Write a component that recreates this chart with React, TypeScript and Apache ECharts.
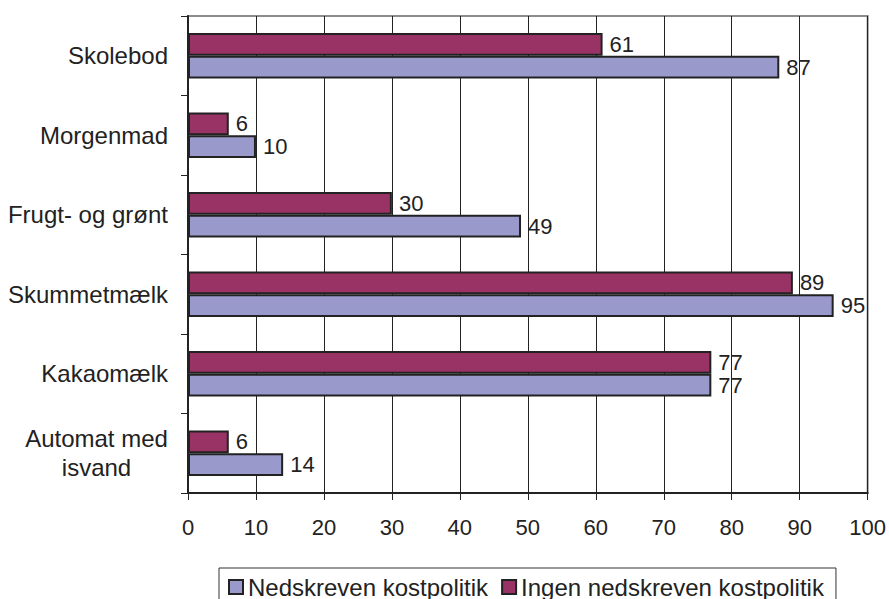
import React, { useEffect, useRef } from "react";
import * as echarts from "echarts";

const categories = ["Automat med\nisvand", "Kakaomælk", "Skummetmælk", "Frugt- og grønt", "Morgenmad", "Skolebod"];
const seriesNames = ["Nedskreven kostpolitik", "Ingen nedskreven kostpolitik"];
const nedskreven = [14, 77, 95, 49, 10, 87];
const ingen = [6, 77, 89, 30, 6, 61];
const xTicks = [0, 10, 20, 30, 40, 50, 60, 70, 80, 90, 100];

const FONT = "Liberation Sans, Arial, sans-serif";

export default function App() {
  const ref = useRef<HTMLDivElement>(null);
  useEffect(() => {
    if (!ref.current) return;
    const chart = echarts.init(ref.current, null, { renderer: "svg" });
    const labelStyle = {
      show: true,
      position: "right",
      distance: 7,
      fontSize: 22,
      color: "#222",
      fontFamily: FONT,
    };
    chart.setOption({
      animation: false,
      textStyle: { fontFamily: FONT },
      grid: {
        left: 188,
        right: 21,
        top: 16,
        bottom: 106,
        show: true,
        borderColor: "#8c8c8c",
        borderWidth: 2,
        backgroundColor: "transparent",
      },
      legend: {
        data: seriesNames,
        left: 219,
        top: 568,
        orient: "horizontal",
        icon: "rect",
        itemWidth: 14,
        itemHeight: 14,
        itemGap: 13,
        padding: [7, 12, 3, 9],
        borderColor: "#333",
        borderWidth: 1,
        itemStyle: { borderColor: "#222", borderWidth: 2 },
        textStyle: { fontSize: 24, color: "#222", fontFamily: FONT },
      },
      xAxis: {
        type: "value",
        min: xTicks[0],
        max: xTicks[xTicks.length - 1],
        interval: 10,
        axisLine: { show: true, lineStyle: { color: "#222", width: 2 } },
        axisTick: { show: true, length: 7, lineStyle: { color: "#222", width: 1 } },
        axisLabel: { fontSize: 22, color: "#222", margin: 23, fontFamily: FONT },
        splitLine: { show: true, lineStyle: { color: "#222", width: 1 } },
      },
      yAxis: {
        type: "category",
        data: categories,
        axisLine: { show: true, lineStyle: { color: "#222", width: 2 } },
        axisTick: { show: true, length: 7, lineStyle: { color: "#222", width: 1 } },
        axisLabel: {
          fontSize: 24,
          color: "#222",
          margin: 20,
          fontFamily: FONT,
          lineHeight: 29,
          formatter: (v: string) => {
            if (v.indexOf("\n") >= 0) {
              return v
                .split("\n")
                .map((s) => "{c|" + s + "}")
                .join("\n");
            }
            return v;
          },
          rich: {
            c: { width: 143, align: "center", fontSize: 24, color: "#222", fontFamily: FONT, lineHeight: 29 },
          },
        },
        splitLine: { show: false },
      },
      series: [
        {
          name: seriesNames[1],
          type: "bar",
          data: ingen,
          barCategoryGap: "43%",
          barGap: "0%",
          itemStyle: { color: "#993366", borderColor: "#222", borderWidth: 2 },
          label: labelStyle,
        },
        {
          name: seriesNames[0],
          type: "bar",
          data: nedskreven,
          barCategoryGap: "43%",
          barGap: "0%",
          itemStyle: { color: "#9999cc", borderColor: "#222", borderWidth: 2 },
          label: labelStyle,
        },
      ],
    });
    return () => chart.dispose();
  }, []);
  return (
    <div
      ref={ref}
      style={{ position: "fixed", left: 0, top: 0, width: 889, height: 599, background: "#fff" }}
    />
  );
}
